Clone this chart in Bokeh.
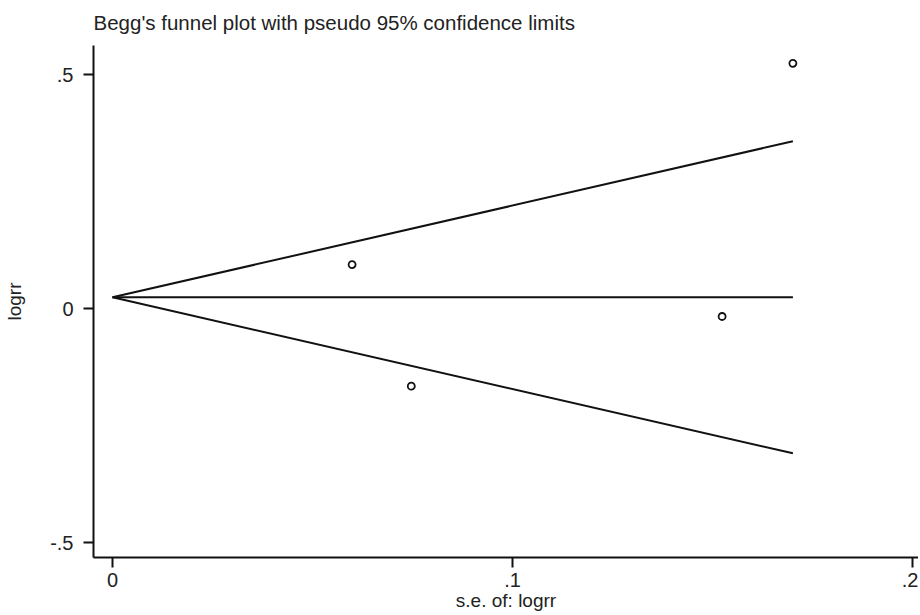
from bokeh.plotting import figure
from bokeh.models import Range1d, FixedTicker
from bokeh.embed import file_html
from bokeh.resources import INLINE

# Data
se = [0.0599, 0.0747, 0.1524, 0.1701]
logrr = [0.094, -0.166, -0.017, 0.524]
pooled = 0.024
se_max = 0.1701
z = 1.96

x_ticks = [0, 0.1, 0.2]
x_tick_labels = ["0", ".1", ".2"]
y_ticks = [-0.5, 0, 0.5]
y_tick_labels = ["-.5", "0", ".5"]

FONT = "Liberation Sans"

p = figure(width=918, height=613, output_backend="svg", toolbar_location=None,
           x_range=Range1d(-0.00475, 0.2015), y_range=Range1d(-0.532, 0.562),
           min_border_left=93, min_border_right=0, min_border_top=45, min_border_bottom=56,
           title="Begg's funnel plot with pseudo 95% confidence limits")

p.title.text_font = FONT
p.title.text_font_size = "20.5px"
p.title.text_font_style = "normal"
p.title.text_color = "#222222"
p.title.align = "left"
p.title.standoff = 20
p.title.vertical_align = "top"

p.grid.visible = False
p.outline_line_color = None
p.background_fill_color = "white"
p.border_fill_color = "white"

# Funnel lines
upper = [pooled, pooled + z * se_max]
lower = [pooled, pooled - z * se_max]
xs = [0, se_max]
p.line(xs, upper, line_color="#111111", line_width=2)
p.line(xs, lower, line_color="#111111", line_width=2)
p.line(xs, [pooled, pooled], line_color="#111111", line_width=2)

# Study points
p.scatter(se, logrr, marker="circle", size=7, fill_color="white",
          line_color="#111111", line_width=1.8)

for ax, ticks, labels in ((p.xaxis[0], x_ticks, x_tick_labels),
                          (p.yaxis[0], y_ticks, y_tick_labels)):
    ax.ticker = FixedTicker(ticks=ticks)
    ax.major_label_overrides = {t: l for t, l in zip(ticks, labels)}
    ax.minor_tick_line_color = None
    ax.major_tick_out = 10
    ax.major_tick_in = 0
    ax.major_tick_line_width = 2
    ax.major_tick_line_color = "#111111"
    ax.axis_line_width = 2
    ax.axis_line_color = "#111111"
    ax.major_label_text_font = FONT
    ax.major_label_text_font_size = "20px"
    ax.major_label_text_color = "#222222"
    ax.axis_label_text_font = FONT
    ax.axis_label_text_font_style = "normal"
    ax.axis_label_text_color = "#222222"

p.xaxis.axis_label = "s.e. of: logrr"
p.xaxis.axis_label_text_font_size = "19px"
p.xaxis.major_label_standoff = 5
p.xaxis.axis_label_standoff = 0

p.yaxis.axis_label = "logrr"
p.yaxis.axis_label_text_font_size = "19px"
p.yaxis.major_label_standoff = 10
p.yaxis.major_label_orientation = "horizontal"
p.yaxis.axis_label_standoff = 22

open("out.html", "w").write(file_html(p, INLINE))
